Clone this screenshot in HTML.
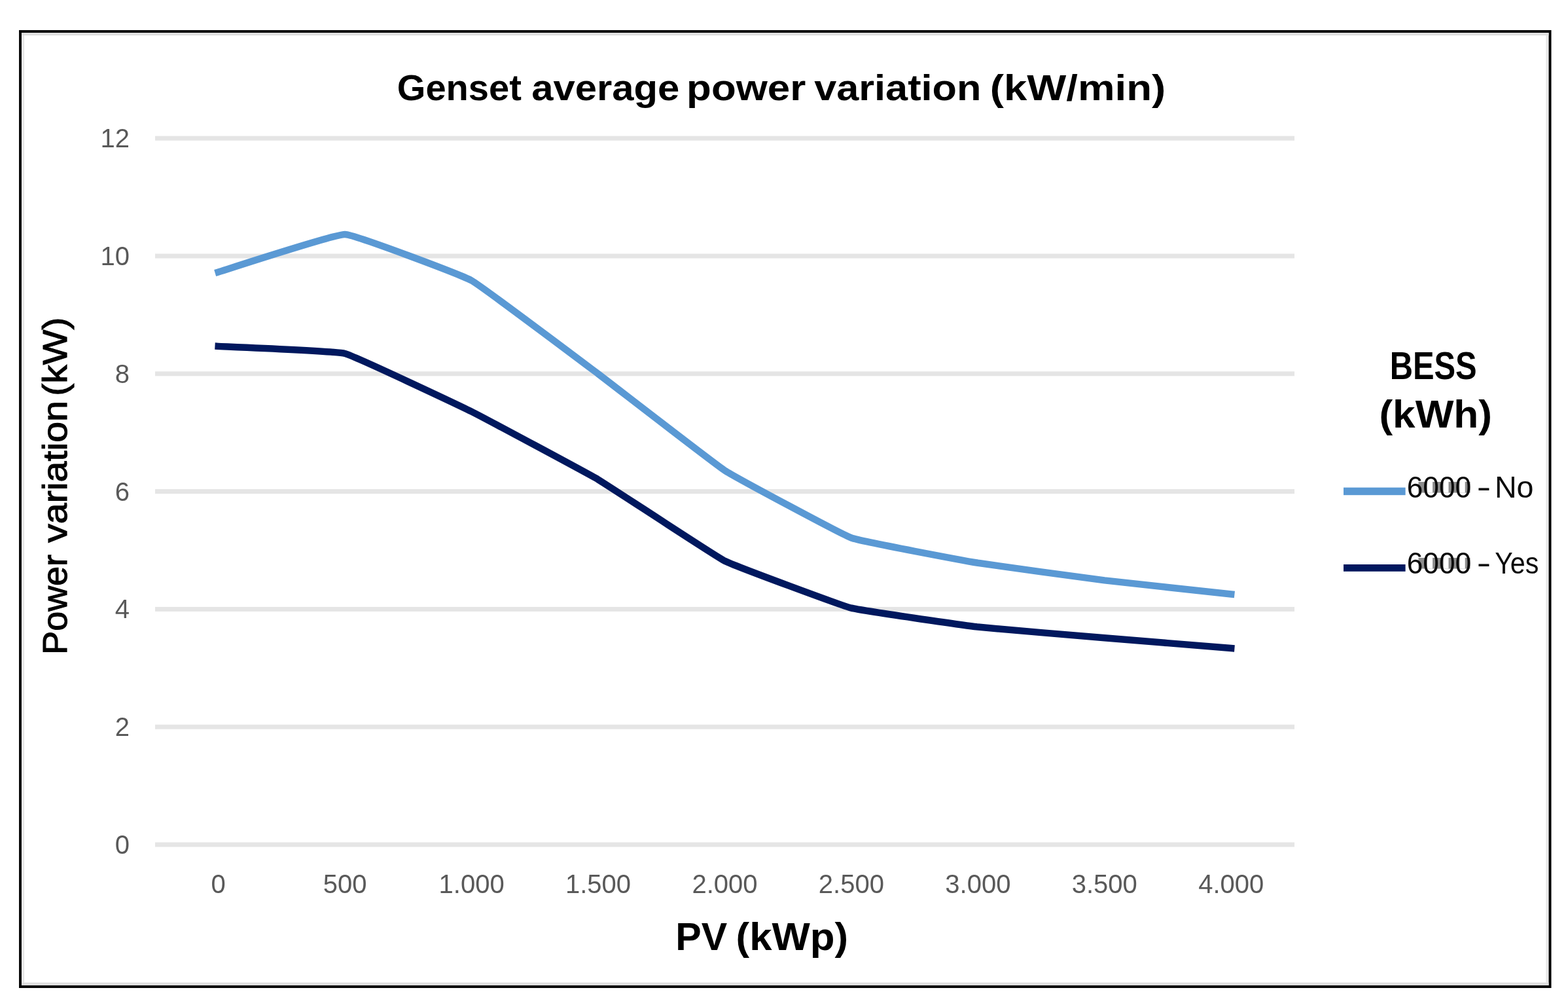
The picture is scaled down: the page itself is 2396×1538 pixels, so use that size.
<!DOCTYPE html><html><head><meta charset="utf-8"><title>Genset average power variation</title><style>html,body{margin:0;padding:0;background:#fff;}svg{display:block;}text{font-family:"Liberation Sans", Arial, sans-serif;}</style></head><body>
<svg width="2396" height="1538" viewBox="0 0 2396 1538">
<rect x="0" y="0" width="2396" height="1538" fill="#ffffff"/>
<rect x="31" y="48" width="2337.5" height="1459" fill="none" stroke="#050505" stroke-width="4"/>
<rect x="33.5" y="50.2" width="2333" height="4" fill="#dfdfdf"/>
<rect x="33.5" y="1500.6" width="2333" height="4.4" fill="#dfdfdf"/>
<rect x="33.7" y="54" width="3.5" height="1447" fill="#e8e8e8"/>
<rect x="2362.3" y="54" width="3.5" height="1447" fill="#e8e8e8"/>
<rect x="237" y="1286.5" width="1741" height="7" fill="#e5e5e5"/>
<rect x="237" y="1106.7" width="1741" height="7" fill="#e5e5e5"/>
<rect x="237" y="926.9" width="1741" height="7" fill="#e5e5e5"/>
<rect x="237" y="747.1" width="1741" height="7" fill="#e5e5e5"/>
<rect x="237" y="567.3" width="1741" height="7" fill="#e5e5e5"/>
<rect x="237" y="387.5" width="1741" height="7" fill="#e5e5e5"/>
<rect x="237" y="207.7" width="1741" height="7" fill="#e5e5e5"/>
<text x="198" y="1304.0" font-size="40" fill="#595959" text-anchor="end">0</text>
<text x="198" y="1124.2" font-size="40" fill="#595959" text-anchor="end">2</text>
<text x="198" y="944.4" font-size="40" fill="#595959" text-anchor="end">4</text>
<text x="198" y="764.6" font-size="40" fill="#595959" text-anchor="end">6</text>
<text x="198" y="584.8" font-size="40" fill="#595959" text-anchor="end">8</text>
<text x="198" y="405.0" font-size="40" fill="#595959" text-anchor="end">10</text>
<text x="198" y="225.2" font-size="40" fill="#595959" text-anchor="end">12</text>
<text x="333.7" y="1364" font-size="40" fill="#595959" text-anchor="middle">0</text>
<text x="527.2" y="1364" font-size="40" fill="#595959" text-anchor="middle">500</text>
<text x="720.6" y="1364" font-size="40" fill="#595959" text-anchor="middle">1.000</text>
<text x="914.0" y="1364" font-size="40" fill="#595959" text-anchor="middle">1.500</text>
<text x="1107.5" y="1364" font-size="40" fill="#595959" text-anchor="middle">2.000</text>
<text x="1300.9" y="1364" font-size="40" fill="#595959" text-anchor="middle">2.500</text>
<text x="1494.4" y="1364" font-size="40" fill="#595959" text-anchor="middle">3.000</text>
<text x="1687.8" y="1364" font-size="40" fill="#595959" text-anchor="middle">3.500</text>
<text x="1881.2" y="1364" font-size="40" fill="#595959" text-anchor="middle">4.000</text>
<path d="M333.70,415.50 C341.44,413.20 511.72,357.48 527.20,358.00 C542.68,358.52 705.13,419.98 720.60,428.50 C736.07,437.02 898.52,559.40 914.00,571.00 C929.48,582.60 1092.02,708.58 1107.50,718.60 C1122.98,728.62 1285.43,815.85 1300.90,821.50 C1316.37,827.15 1478.82,857.20 1494.30,859.80 C1509.78,862.40 1672.32,884.49 1687.80,886.40 C1703.28,888.31 1873.46,906.66 1881.20,907.50" fill="none" stroke="#5A99D4" stroke-width="10.5" stroke-linejoin="round" stroke-linecap="square"/>
<path d="M333.70,528.90 C341.44,529.34 511.72,536.01 527.20,540.00 C542.68,543.99 705.13,620.90 720.60,628.60 C736.07,636.30 898.52,723.28 914.00,732.40 C929.48,741.52 1092.02,848.85 1107.50,856.70 C1122.98,864.55 1285.43,924.66 1300.90,928.70 C1316.37,932.74 1478.82,955.78 1494.30,957.60 C1509.78,959.42 1672.32,973.00 1687.80,974.30 C1703.28,975.60 1873.46,989.37 1881.20,990.00" fill="none" stroke="#00185E" stroke-width="10.5" stroke-linejoin="round" stroke-linecap="square"/>
<text x="606.80" y="152.50" font-size="56.0" font-weight="bold" fill="#000" textLength="190.08" lengthAdjust="spacingAndGlyphs">Genset</text>
<text x="812.25" y="152.50" font-size="56.0" font-weight="bold" fill="#000" textLength="226.10" lengthAdjust="spacingAndGlyphs">average</text>
<text x="1049.12" y="152.50" font-size="56.0" font-weight="bold" fill="#000" textLength="182.22" lengthAdjust="spacingAndGlyphs">power</text>
<text x="1244.26" y="152.50" font-size="56.0" font-weight="bold" fill="#000" textLength="255.03" lengthAdjust="spacingAndGlyphs">variation</text>
<text x="1512.73" y="152.50" font-size="56.0" font-weight="bold" fill="#000" textLength="268.43" lengthAdjust="spacingAndGlyphs">(kW/min)</text>
<g transform="rotate(-90)">
<text x="-999.72" y="102.00" font-size="51.0" fill="#000" textLength="152.71" lengthAdjust="spacingAndGlyphs" stroke="#000" stroke-width="1.1">Power</text>
<text x="-828.80" y="102.00" font-size="51.0" fill="#000" textLength="216.72" lengthAdjust="spacingAndGlyphs" stroke="#000" stroke-width="1.1">variation</text>
<text x="-604.73" y="102.00" font-size="51.0" fill="#000" textLength="120.06" lengthAdjust="spacingAndGlyphs" stroke="#000" stroke-width="1.1">(kW)</text>
</g>
<text x="1032.35" y="1450.50" font-size="60.0" font-weight="bold" fill="#000" textLength="78.86" lengthAdjust="spacingAndGlyphs">PV</text>
<text x="1124.62" y="1450.50" font-size="60.0" font-weight="bold" fill="#000" textLength="171.45" lengthAdjust="spacingAndGlyphs">(kWp)</text>
<text x="2123.63" y="578.70" font-size="59.0" font-weight="bold" fill="#000" textLength="133.08" lengthAdjust="spacingAndGlyphs">BESS</text>
<text x="2107.40" y="652.90" font-size="60.0" font-weight="bold" fill="#000" textLength="172.69" lengthAdjust="spacingAndGlyphs">(kWh)</text>
<rect x="2053" y="744.6" width="94.6" height="11.6" fill="#5A99D4"/>
<rect x="2053" y="862" width="94.6" height="10.8" fill="#00185E"/>
<rect x="2167.5" y="736" width="79" height="16.6" fill="#8c8c8c"/>
<rect x="2180.9" y="736" width="8.2" height="16.6" fill="#fff"/>
<rect x="2205.7" y="736" width="7.8" height="16.6" fill="#fff"/>
<rect x="2230.4" y="736" width="8.3" height="16.6" fill="#fff"/>
<rect x="2167.5" y="852" width="79" height="16.6" fill="#8c8c8c"/>
<rect x="2180.9" y="852" width="8.2" height="16.6" fill="#fff"/>
<rect x="2205.7" y="852" width="7.8" height="16.6" fill="#fff"/>
<rect x="2230.4" y="852" width="8.3" height="16.6" fill="#fff"/>
<text x="2149.65" y="760.30" font-size="47.0" fill="#0a0a0a" textLength="98.58" lengthAdjust="spacingAndGlyphs">6000</text>
<text x="2256.49" y="760.30" font-size="47.0" fill="#0a0a0a" textLength="21.82" lengthAdjust="spacingAndGlyphs">-</text>
<text x="2283.98" y="760.30" font-size="47.0" fill="#0a0a0a" textLength="59.58" lengthAdjust="spacingAndGlyphs">No</text>
<text x="2149.65" y="875.90" font-size="47.0" fill="#0a0a0a" textLength="98.58" lengthAdjust="spacingAndGlyphs">6000</text>
<text x="2256.49" y="875.90" font-size="47.0" fill="#0a0a0a" textLength="21.82" lengthAdjust="spacingAndGlyphs">-</text>
<text x="2284.14" y="875.90" font-size="47.0" fill="#0a0a0a" textLength="67.27" lengthAdjust="spacingAndGlyphs">Yes</text>
</svg></body></html>
